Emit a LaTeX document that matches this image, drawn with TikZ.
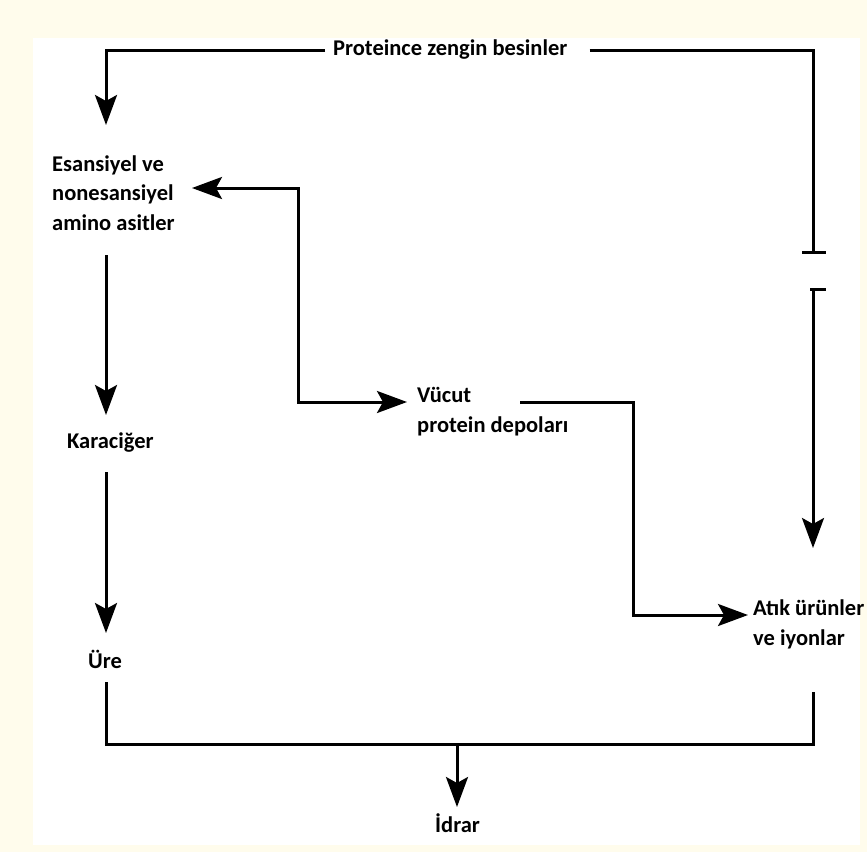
\documentclass[tikz,border=0pt]{standalone}
\usepackage{fontspec}
\setmainfont{Carlito}
\usetikzlibrary{arrows.meta, positioning}
\definecolor{paper}{RGB}{255,252,236}
\tikzstyle{term} = [inner sep=0, align=left, font=\bfseries\fontsize{22.5}{29.5}\selectfont]
\tikzstyle{wire} = [line width=3pt]
\tikzstyle{arrow} = [wire, -{Stealth[length=30pt, width=22pt, inset=6pt]}]
\tikzstyle{twoway} = [wire, {Stealth[length=30pt, width=22pt, inset=6pt]}-{Stealth[length=30pt, width=22pt, inset=6pt]}]

\begin{document}
\begin{tikzpicture}[x=1pt, y=-1pt]
	% page
	\fill[paper] (0, 0) rectangle (867, 852);
	\fill[white] (33, 38) rectangle (860, 845);
	\useasboundingbox (0, 0) rectangle (867, 852);

	\node (Food) [term, anchor=west, inner xsep=8pt] at (325, 50) {Proteince zengin besinler};
	\node (Amino) [term, anchor=base west] at (52, 230) {Esansiyel ve\\nonesansiyel\\amino asitler};
	\node (Liver) [term, anchor=base west] at (67, 448) {Karaciğer};
	\node (Urea) [term, anchor=base west] at (88, 668) {Üre};
	\node (Stores) [term, anchor=base west] at (417, 432) {Vücut\\protein depoları};
	\node (Waste) [term, anchor=base west] at (753, 645) {Atık ürünler\\ve iyonlar};
	\node (Urine) [term, anchor=base west] at (435, 832) {İdrar};

	% food to amino acids
	\coordinate (TopLeft) at (106, 50);
	\coordinate (AminoIn) at (106, 125);
	\draw [arrow] (Food.west) -- (TopLeft) -- (AminoIn);

	% food straight to waste, broken line
	\coordinate (TopRight) at (813, 50);
	\coordinate (BreakTop) at (813, 252);
	\coordinate (BreakBottom) at (813, 289);
	\coordinate (WasteTop) at (813, 548);
	\draw [wire] ([xshift=14pt]Food.east) -- (TopRight) -- (BreakTop);
	\draw [wire] ([xshift=-11pt]BreakTop) -- ([xshift=13pt]BreakTop);
	\draw [wire] ([xshift=-3pt]BreakBottom) -- ([xshift=13pt]BreakBottom);
	\draw [arrow] (BreakBottom) -- (WasteTop);

	% amino acids <-> body stores
	\coordinate (AminoSide) at (192, 188);
	\coordinate (StoreCorner) at (298, 188);
	\coordinate (StoreIn) at (407, 402);
	\draw [twoway] (AminoSide) -- (StoreCorner) |- (StoreIn);

	% body stores to waste
	\coordinate (StoreOut) at (520, 402);
	\coordinate (WasteCorner) at (633, 402);
	\coordinate (WasteIn) at (748, 615);
	\draw [arrow] (StoreOut) -- (WasteCorner) |- (WasteIn);

	% amino acids, liver, urea
	\coordinate (AminoOut) at (106, 255);
	\coordinate (LiverIn) at (106, 415);
	\coordinate (LiverOut) at (106, 472);
	\coordinate (UreaIn) at (106, 633);
	\draw [arrow] (AminoOut) -- (LiverIn);
	\draw [arrow] (LiverOut) -- (UreaIn);

	% collecting to urine
	\coordinate (UreaOut) at (106, 682);
	\coordinate (WasteOut) at (813, 692);
	\coordinate (Join) at (457, 744);
	\coordinate (UrineIn) at (457, 807);
	\draw [wire] (UreaOut) |- (Join) -| (WasteOut);
	\draw [arrow] (Join) -- (UrineIn);
\end{tikzpicture}
\end{document}
